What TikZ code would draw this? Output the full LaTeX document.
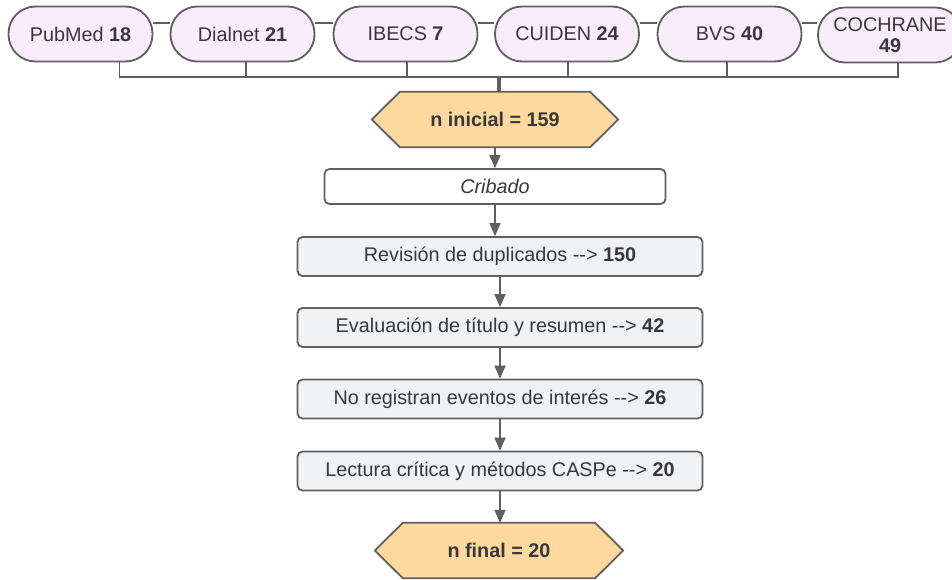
\documentclass[tikz,border=0pt]{standalone}
\usepackage{fontspec}
\setmainfont{Liberation Sans}
\usetikzlibrary{arrows.meta,calc}
\pgfdeclarelayer{bg}
\pgfsetlayers{bg,main}
\definecolor{edgec}{HTML}{5F5F5F}
\definecolor{pillfill}{HTML}{F9EDFC}
\definecolor{boxfill}{HTML}{F1F2F4}
\definecolor{hexfill}{HTML}{FDD9A0}
\definecolor{txt}{HTML}{383838}
\newcommand\arrowtxt{\mbox{-}\mbox{-}>}
\begin{document}
\begin{tikzpicture}[x=1pt,y=-1pt,
 every node/.style={font=\fontsize{19.8}{21.5}\selectfont, text=txt, inner sep=0pt},
 pill/.style={draw=edgec, line width=1.8pt, fill=pillfill, rounded corners=27pt, minimum width=144pt, minimum height=55pt},
 stepbox/.style={draw=edgec, line width=1.8pt, fill=boxfill, rounded corners=5pt, minimum width=405pt, minimum height=39pt},
 hexnode/.style={minimum width=246pt, minimum height=55pt},
 hexline/.style={draw=edgec, line width=1.8pt, fill=hexfill, line join=round},
 link/.style={draw=edgec, line width=1.8pt},
 arr/.style={link, -{Triangle[length=13pt,width=11pt]}}]
\useasboundingbox (0,0) rectangle (952,579);
\coordinate (bus) at (0,77);
% sources
\node[pill] (pub) at (80.5,34) {PubMed \textbf{18}};
\node[pill] (dia) at (242.5,34) {Dialnet \textbf{21}};
\node[pill] (ibe) at (405.5,34) {IBECS \textbf{7}};
\node[pill] (cui) at (567,34) {CUIDEN \textbf{24}};
\node[pill] (bvs) at (729.5,34) {BVS \textbf{40}};
\node[pill, align=center] (coc) at (890,35) {COCHRANE\\\textbf{49}};
% flow
\node[hexnode] (ini) at (495,119.5) {\textbf{n inicial = 159}};
\node[stepbox, fill=white, minimum width=341pt, minimum height=35pt] (crib) at (495,186.5) {\textit{Cribado}};
\node[stepbox] (rev) at (500,256.5) {Revisión de duplicados \arrowtxt{} \textbf{150}};
\node[stepbox] (eva) at (500,327.5) {Evaluación de título y resumen \arrowtxt{} \textbf{42}};
\node[stepbox] (nor) at (500,399) {No registran eventos de interés \arrowtxt{} \textbf{26}};
\node[stepbox] (lec) at (500,471) {Lectura crítica y métodos CASPe \arrowtxt{} \textbf{20}};
\node[hexnode, minimum width=248pt] (fin) at (499,550.5) {\textbf{n final = 20}};
\begin{pgfonlayer}{bg}
\foreach \h in {ini,fin}{
  \draw[hexline] (\h.west) -- ([xshift=28pt]\h.north west) -- ([xshift=-28pt]\h.north east) -- (\h.east) -- ([xshift=-28pt]\h.south east) -- ([xshift=28pt]\h.south west) -- cycle;}
% links between pills
\draw[link] ([yshift=11pt]pub.east) -- ([yshift=11pt]dia.west);
\draw[link] ([yshift=11pt]dia.east) -- ([yshift=11pt]ibe.west);
\draw[link] ([yshift=11pt]ibe.east) -- ([yshift=11pt]cui.west);
\draw[link] ([yshift=11pt]cui.east) -- ([yshift=11pt]bvs.west);
\draw[link] ([yshift=11pt]bvs.east) -- ([yshift=12pt]coc.west);
% bus
\draw[link] ([xshift=39pt]pub.south) -- ([xshift=39pt]pub.south |- bus) -- ([xshift=8pt]coc.south |- bus) -- ([xshift=8pt]coc.south);
\draw[link] ([xshift=3.5pt]dia.south) -- ([xshift=3.5pt]dia.south |- bus);
\draw[link] ([xshift=1.5pt]ibe.south) -- ([xshift=1.5pt]ibe.south |- bus);
\draw[link] ([xshift=1pt]cui.south) -- ([xshift=1pt]cui.south |- bus);
\draw[link] ([xshift=-2.5pt]bvs.south) -- ([xshift=-2.5pt]bvs.south |- bus);
\draw[edgec, line width=3.5pt] ([xshift=4pt]ini.north |- bus) -- ([xshift=4pt]ini.north);
\end{pgfonlayer}
% arrows
\draw[arr] (ini.south) -- (crib.north);
\draw[arr] (crib.south) -- (crib.south |- rev.north);
\draw[arr] (rev.south) -- (eva.north);
\draw[arr] (eva.south) -- (nor.north);
\draw[arr] (nor.south) -- (lec.north);
\draw[arr] (lec.south) -- (lec.south |- fin.north);
\end{tikzpicture}
\end{document}
